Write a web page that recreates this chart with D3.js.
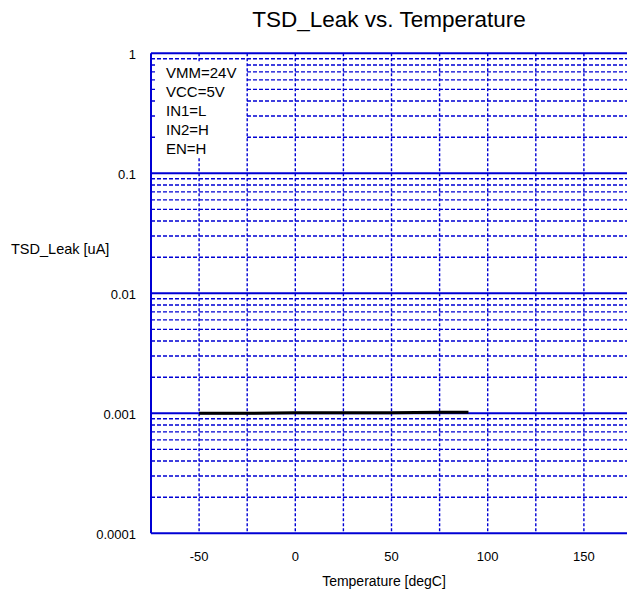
<!DOCTYPE html>
<html>
<head>
<meta charset="utf-8">
<script src="https://cdn.jsdelivr.net/npm/d3@7"></script>
<style>
  html, body { margin: 0; padding: 0; background: #fff; }
  svg { display: block; font-family: "Liberation Sans", Arial, sans-serif; }
</style>
</head>
<body>
<svg id="chart" width="627" height="605"></svg>
<script>
// Leakage measurement across temperature
const temperature = [-50, -25, 0, 25, 50, 75, 90];
const leak = [0.00100, 0.00100, 0.00101, 0.00101, 0.00101, 0.00102, 0.00102];

const xTicks = [-50, 0, 50, 100, 150];
const xGrid = [-50, -25, 0, 25, 50, 75, 100, 125, 150];
const yTicks = [1, 0.1, 0.01, 0.001, 0.0001];
const yTickLabels = ["1", "0.1", "0.01", "0.001", "0.0001"];
const conditions = ["VMM=24V", "VCC=5V", "IN1=L", "IN2=H", "EN=H"];

const title = "TSD_Leak vs. Temperature";
const xTitle = "Temperature [degC]";
const yTitle = "TSD_Leak [uA]";

const svg = d3.select("#chart");
const gridColor = "#0000d4";

const x = d3.scaleLinear().domain([-75, 175]).range([151, 632]);
const y = d3.scaleLog().domain([0.0001, 1]).range([533.3, 53.3]);

// minor decade gridlines (2..9 in each decade)
const minor = [];
for (let e = -4; e < 0; e++) {
  for (let m = 2; m <= 9; m++) minor.push(m * Math.pow(10, e));
}

const grid = svg.append("g");
grid.selectAll("line.minor").data(minor).join("line")
  .attr("class", "minor")
  .attr("x1", x(-75)).attr("x2", x(175))
  .attr("y1", d => y(d)).attr("y2", d => y(d))
  .attr("stroke", gridColor).attr("stroke-width", 1.4)
  .attr("stroke-dasharray", "4,2");

grid.selectAll("line.vgrid").data(xGrid).join("line")
  .attr("class", "vgrid")
  .attr("x1", d => x(d)).attr("x2", d => x(d))
  .attr("y1", y(1)).attr("y2", y(0.0001))
  .attr("stroke", gridColor).attr("stroke-width", 1.4)
  .attr("stroke-dasharray", "3,2");

grid.selectAll("line.major").data(yTicks).join("line")
  .attr("class", "major")
  .attr("x1", x(-75)).attr("x2", x(175))
  .attr("y1", d => y(d)).attr("y2", d => y(d))
  .attr("stroke", gridColor).attr("stroke-width", 2);

// left frame
grid.append("line")
  .attr("x1", x(-75)).attr("x2", x(-75))
  .attr("y1", y(1)).attr("y2", y(0.0001))
  .attr("stroke", gridColor).attr("stroke-width", 2);

// measured curve
const line = d3.line().x((d, i) => x(temperature[i])).y(d => y(d));
svg.append("path")
  .datum(leak)
  .attr("d", line)
  .attr("fill", "none")
  .attr("stroke", "#000")
  .attr("stroke-width", 3);

// test-condition note with opaque backing
svg.append("rect")
  .attr("x", 155).attr("y", 62).attr("width", 90).attr("height", 96)
  .attr("fill", "#fff");
svg.append("g").selectAll("text").data(conditions).join("text")
  .attr("x", 166)
  .attr("y", (d, i) => 78 + i * 19)
  .attr("font-size", 15)
  .attr("fill", "#000")
  .text(d => d);

// axis labels
svg.append("g").selectAll("text").data(yTicks).join("text")
  .attr("x", 136)
  .attr("y", d => y(d) + 6)
  .attr("text-anchor", "end")
  .attr("font-size", 13)
  .attr("fill", "#000")
  .text((d, i) => yTickLabels[i]);

svg.append("g").selectAll("text").data(xTicks).join("text")
  .attr("x", d => x(d))
  .attr("y", 561)
  .attr("text-anchor", "middle")
  .attr("font-size", 13)
  .attr("fill", "#000")
  .text(d => d);

svg.append("text")
  .attr("x", 389).attr("y", 27)
  .attr("text-anchor", "middle")
  .attr("font-size", 22.5)
  .attr("fill", "#000")
  .text(title);

svg.append("text")
  .attr("x", 384).attr("y", 586)
  .attr("text-anchor", "middle")
  .attr("font-size", 14)
  .attr("fill", "#000")
  .text(xTitle);

svg.append("text")
  .attr("x", 11).attr("y", 254)
  .attr("font-size", 14.5)
  .attr("fill", "#000")
  .text(yTitle);
</script>
</body>
</html>
